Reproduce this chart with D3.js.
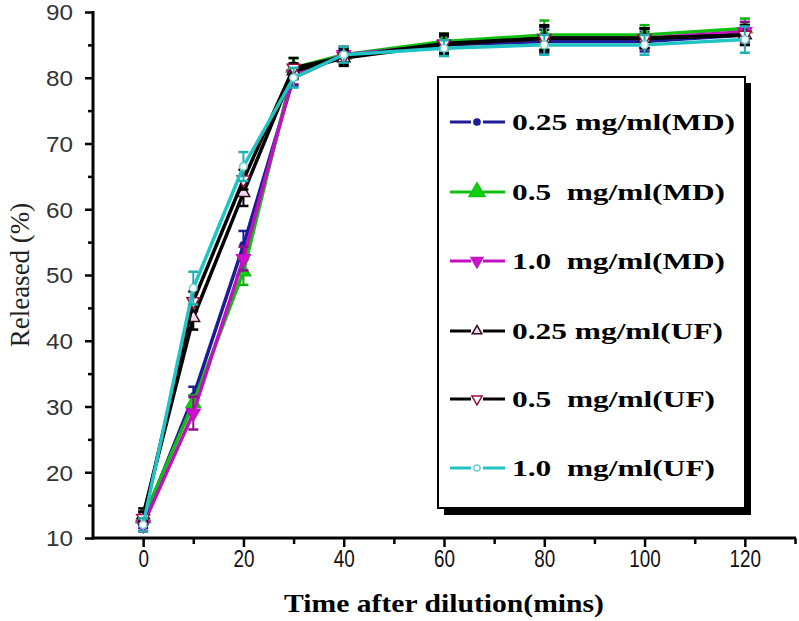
<!DOCTYPE html>
<html><head><meta charset="utf-8">
<script src="https://cdn.jsdelivr.net/npm/d3@7/dist/d3.min.js"></script>
<style>html,body{margin:0;padding:0;background:#fff}svg{display:block}</style>
</head><body>
<svg id="chart" width="799" height="621"></svg>
<script>
const times = [0, 10, 20, 30, 40, 60, 80, 100, 120];
const md025 = [12.5, 31.5, 54.5, 80, 83.5, 85, 85.5, 85.5, 86.5];
const md05  = [13, 30.5, 50.5, 81.5, 83.5, 85.5, 86.5, 86.5, 87.5];
const md10  = [12, 29, 52.5, 80.5, 83.5, 85, 86, 86, 87];
const uf025 = [13.5, 43.5, 62.5, 81, 83, 85, 86, 86, 86.5];
const uf05  = [13, 46, 64.5, 81.5, 83.2, 85.2, 86, 86, 86.5];
const uf10  = [12, 48, 66.5, 80, 83.5, 84.5, 85, 85, 85.8];
const errMD025 = [1, 1.5, 2.2, 1.2, 1, 1.2, 1.8, 1.5, 1.5];
const errMD05  = [1, 1.2, 2, 1.5, 1.2, 1.2, 2.2, 1.5, 1.5];
const errMD10  = [1, 2.5, 1.8, 1.5, 1.2, 1.5, 1.8, 1.5, 1.5];
const errUF025 = [1, 1.8, 2, 1.2, 1.2, 1.5, 1.8, 1.5, 1.5];
const errUF05  = [1, 1.5, 1.5, 1.5, 1.2, 1.5, 2, 1.5, 1.5];
const errUF10  = [1, 2.5, 2.2, 1.5, 1.2, 1.2, 1.5, 1.5, 2];
const seriesNames = ["0.25 mg/ml(MD)", "0.5  mg/ml(MD)", "1.0  mg/ml(MD)", "0.25 mg/ml(UF)", "0.5  mg/ml(UF)", "1.0  mg/ml(UF)"];
const yTicks = [10, 20, 30, 40, 50, 60, 70, 80, 90];
const xTicks = [0, 20, 40, 60, 80, 100, 120];

const series = [
  {name: seriesNames[0], vals: md025, err: errMD025, line: "#1c1c96", sym: d3.symbolCircle, size: 40, lsize: 30, fill: "#1c1c96", stroke: "#1c1c96", ebar: "#1c1c96", rot: 0, tw: 223},
  {name: seriesNames[1], vals: md05,  err: errMD05,  line: "#10c010", sym: d3.symbolTriangle, size: 90, lsize: 110, fill: "#10d010", stroke: "#10c010", ebar: "#10b010", rot: 0, tw: 213},
  {name: seriesNames[2], vals: md10,  err: errMD10,  line: "#c010c0", sym: d3.symbolTriangle, size: 80, lsize: 60, fill: "#d010d0", stroke: "#c010c0", ebar: "#901090", rot: 180, tw: 213},
  {name: seriesNames[3], vals: uf025, err: errUF025, line: "#000000", sym: d3.symbolTriangle, size: 70, lsize: 40, fill: "#f4d8f0", stroke: "#301020", ebar: "#000000", rot: 0, tw: 211},
  {name: seriesNames[4], vals: uf05,  err: errUF05,  line: "#000000", sym: d3.symbolTriangle, size: 70, lsize: 45, fill: "#ffffff", stroke: "#9a1040", ebar: "#000000", rot: 180, tw: 203},
  {name: seriesNames[5], vals: uf10,  err: errUF10,  line: "#20c4c4", sym: d3.symbolCircle, size: 45, lsize: 30, fill: "#ffffff", stroke: "#70d0d0", ebar: "#20b0b0", rot: 0, tw: 203}
];
const drawOrder = [0, 1, 2, 3, 4, 5];

const svg = d3.select("#chart");
const x = d3.scaleLinear().domain([-10, 130]).range([93, 795]);
const y = d3.scaleLinear().domain([10, 90]).range([538, 12]);

// axes
const gx = svg.append("g").attr("transform", `translate(0,${y(10)})`);
gx.call(d3.axisBottom(x).tickValues(xTicks).tickSize(9).tickFormat(d3.format("d")));
const gxm = svg.append("g").attr("transform", `translate(0,${y(10)})`);
gxm.call(d3.axisBottom(x).tickValues([10, 30, 50, 70, 90, 110, 130]).tickSize(6).tickFormat(""));
const gy = svg.append("g").attr("transform", `translate(${x(-10)},0)`);
gy.call(d3.axisLeft(y).tickValues(yTicks).tickSize(8).tickFormat(d3.format("d")));
const gym = svg.append("g").attr("transform", `translate(${x(-10)},0)`);
gym.call(d3.axisLeft(y).tickValues([15, 25, 35, 45, 55, 65, 75, 85]).tickSize(5).tickFormat(""));
[gx, gxm, gy, gym].forEach(g => {
  g.select(".domain").remove();
  g.selectAll(".tick line").attr("stroke", "#000").attr("stroke-width", 2.5);
});
svg.append("line").attr("x1", x(-10)).attr("x2", x(130) + 1).attr("y1", y(10)).attr("y2", y(10)).attr("stroke", "#000").attr("stroke-width", 3);
svg.append("line").attr("x1", x(-10)).attr("x2", x(-10)).attr("y1", y(10) + 1.5).attr("y2", y(90) - 1).attr("stroke", "#000").attr("stroke-width", 3);

gx.selectAll(".tick text").attr("font-family", "'Liberation Sans', Arial, sans-serif")
  .attr("font-size", 23).attr("fill", "#111").attr("dy", "0.9em").attr("y", 8)
  .attr("textLength", d => String(d).length * 10.5).attr("lengthAdjust", "spacingAndGlyphs");
gy.selectAll(".tick text").attr("font-family", "'Liberation Sans', Arial, sans-serif")
  .attr("font-size", 22).attr("fill", "#333").attr("x", -20).attr("dy", "0.36em")
  .attr("textLength", 27).attr("lengthAdjust", "spacingAndGlyphs");

// axis titles
svg.append("text").attr("x", 444).attr("y", 612).attr("text-anchor", "middle")
  .attr("font-family", "'Liberation Serif', 'Times New Roman', serif").attr("font-size", 26).attr("font-weight", "bold")
  .attr("textLength", 320).attr("lengthAdjust", "spacingAndGlyphs")
  .text("Time after dilution(mins)");
svg.append("text").attr("transform", `translate(29,275) rotate(-90)`).attr("text-anchor", "middle")
  .attr("font-family", "'Liberation Serif', 'Times New Roman', serif").attr("font-size", 27).attr("fill", "#222")
  .text("Released (%)");

// lines, error bars, markers
const lineGen = d3.line().x((d, i) => x(times[i])).y(d => y(d));
drawOrder.forEach(si => {
  const s = series[si];
  const g = svg.append("g");
  g.append("path").datum(s.vals).attr("d", lineGen).attr("fill", "none")
    .attr("stroke", s.line).attr("stroke-width", 3.5).attr("stroke-linejoin", "round");
  const eb = g.selectAll(".eb").data(s.vals).enter().append("g");
  eb.append("line").attr("x1", (d, i) => x(times[i])).attr("x2", (d, i) => x(times[i]))
    .attr("y1", (d, i) => y(d - s.err[i])).attr("y2", (d, i) => y(d + s.err[i]))
    .attr("stroke", s.ebar).attr("stroke-width", 2);
  [-1, 1].forEach(sg => {
    eb.append("line").attr("x1", (d, i) => x(times[i]) - 5).attr("x2", (d, i) => x(times[i]) + 5)
      .attr("y1", (d, i) => y(d + sg * s.err[i])).attr("y2", (d, i) => y(d + sg * s.err[i]))
      .attr("stroke", s.ebar).attr("stroke-width", 2.5);
  });
  g.selectAll(".mk").data(s.vals).enter().append("path")
    .attr("d", d3.symbol().type(s.sym).size(s.size))
    .attr("transform", (d, i) => `translate(${x(times[i])},${y(d)}) rotate(${s.rot})`)
    .attr("fill", s.fill).attr("stroke", s.stroke).attr("stroke-width", 1.5);
});

// legend
const lg = svg.append("g");
lg.append("rect").attr("x", 444).attr("y", 83).attr("width", 307).attr("height", 432).attr("fill", "#000");
lg.append("rect").attr("x", 438).attr("y", 77).attr("width", 307).attr("height", 431)
  .attr("fill", "#fff").attr("stroke", "#000").attr("stroke-width", 2);
const rowY = [122, 192, 261, 331, 399, 468];
series.forEach((s, i) => {
  const ry = rowY[i];
  lg.append("line").attr("x1", 450).attr("x2", 505).attr("y1", ry).attr("y2", ry)
    .attr("stroke", s.line).attr("stroke-width", 3);
  lg.append("rect").attr("x", 471).attr("y", ry - 5).attr("width", 12).attr("height", 10).attr("fill", "#fff");
  lg.append("path").attr("d", d3.symbol().type(s.sym).size(s.lsize))
    .attr("transform", `translate(477,${ry}) rotate(${s.rot})`)
    .attr("fill", s.fill).attr("stroke", s.stroke).attr("stroke-width", 1.5);
  lg.append("text").attr("x", 512).attr("y", ry).attr("dy", "0.35em")
    .attr("font-family", "'Liberation Serif', 'Times New Roman', serif").attr("font-size", 24).attr("font-weight", "bold")
    .attr("textLength", s.tw).attr("lengthAdjust", "spacingAndGlyphs")
    .attr("xml:space", "preserve").style("white-space", "pre")
    .text(s.name);
});
</script>
</body></html>
